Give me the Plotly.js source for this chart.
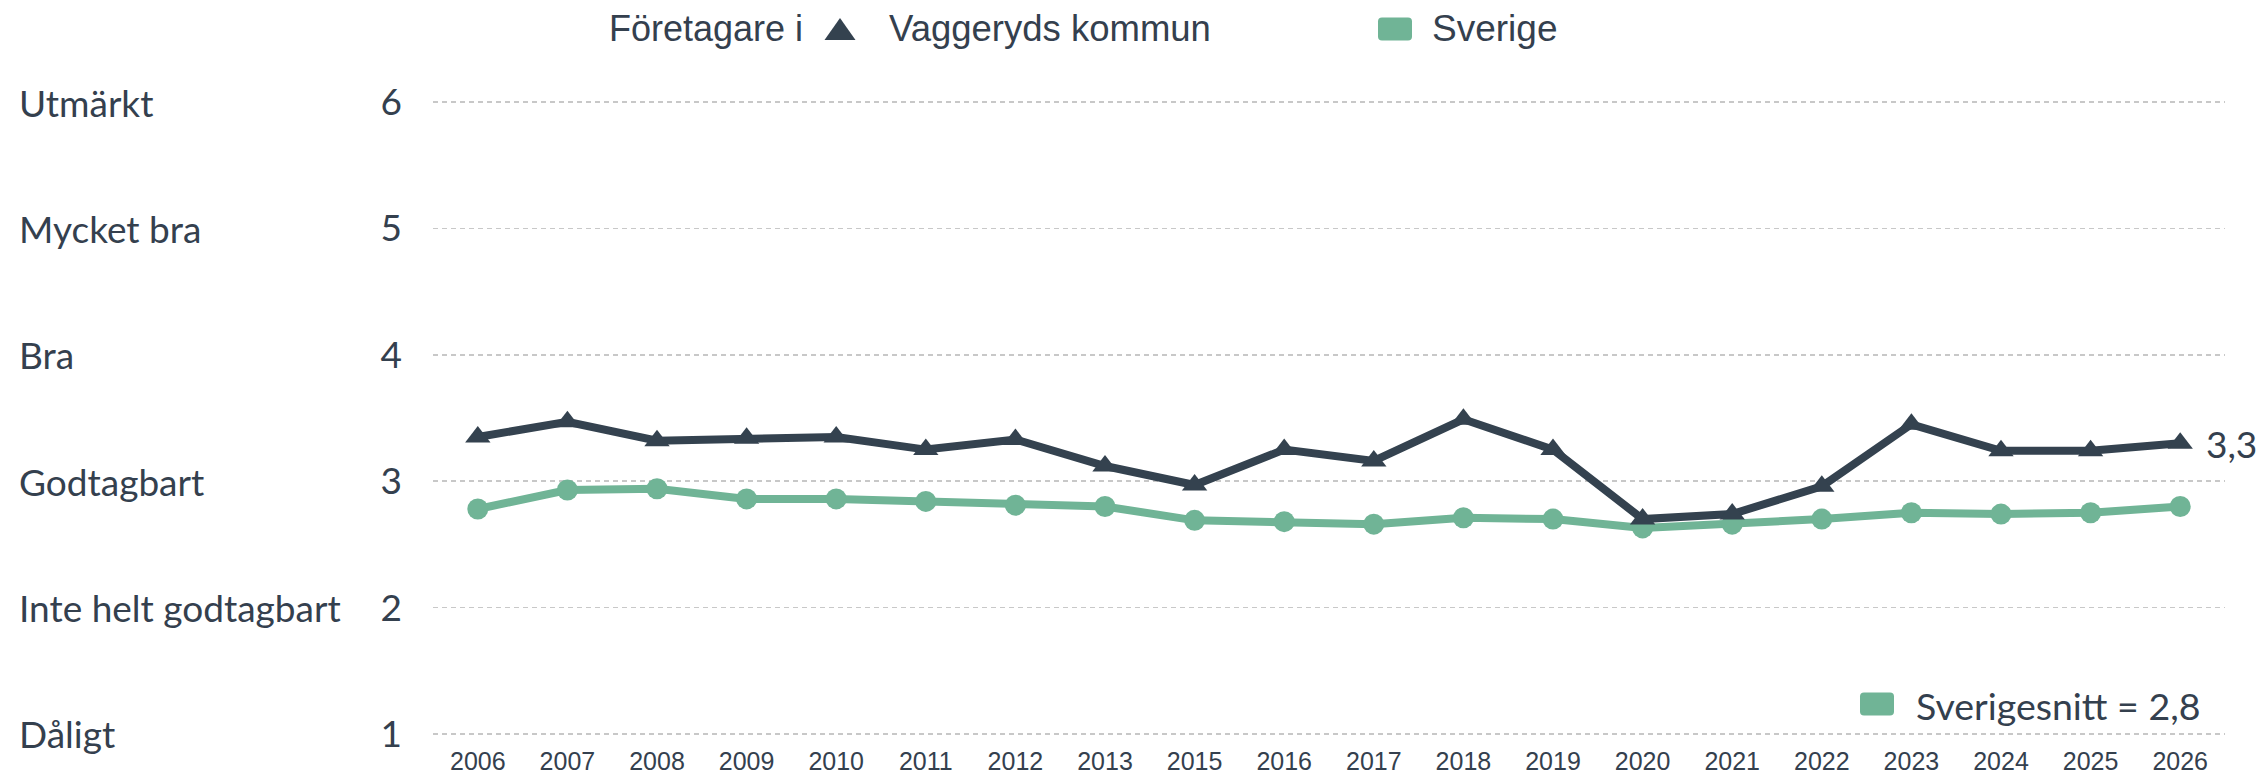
<!DOCTYPE html>
<html>
<head>
<meta charset="utf-8">
<script src="https://cdn.plot.ly/plotly-3.0.1.min.js"></script>
<style>
  html, body { margin: 0; padding: 0; background: #ffffff; }
  #chart { width: 2265px; height: 779px; }
</style>
</head>
<body>
<div id="chart"></div>
<script>
// ---- Data ----
const years = ['2006','2007','2008','2009','2010','2011','2012','2013','2015','2016',
               '2017','2018','2019','2020','2021','2022','2023','2024','2025','2026'];
const vaggeryd = [3.35, 3.47, 3.32, 3.34, 3.35, 3.25, 3.33, 3.12, 2.97, 3.25,
                  3.16, 3.49, 3.25, 2.70, 2.74, 2.96, 3.45, 3.24, 3.24, 3.30];
const sverige  = [2.78, 2.93, 2.94, 2.86, 2.86, 2.84, 2.81, 2.80, 2.69, 2.68,
                  2.66, 2.71, 2.70, 2.63, 2.66, 2.70, 2.75, 2.74, 2.75, 2.80];
const yTickValues = [1, 2, 3, 4, 5, 6];
const yLevelLabels = ['Dåligt', 'Inte helt godtagbart', 'Godtagbart', 'Bra', 'Mycket bra', 'Utmärkt'];
const legendTitle = 'Företagare i';
const seriesNames = ['Vaggeryds kommun', 'Sverige'];
const avgLabel = 'Sverigesnitt';

// ---- Styles ----
const DARK = '#34424f';
const GREEN = '#70b496';
const TEXT = '#34404e';
const fmt = v => v.toFixed(1).replace('.', ',');

// plot-area geometry (pixels) for placing legend decorations
const M = { l: 433, r: 40, t: 97, b: 40 };
const PW = 2265 - M.l - M.r, PH = 779 - M.t - M.b;
const px = x => (x - M.l) / PW;
const py = y => (779 - M.b - y) / PH;

const traces = [
  {
    x: years, y: sverige, type: 'scatter', mode: 'lines+markers', name: seriesNames[1],
    line: { color: GREEN, width: 8 },
    marker: { symbol: 'circle', size: 21, color: GREEN },
    showlegend: false, hoverinfo: 'skip'
  },
  {
    x: years, y: vaggeryd, type: 'scatter', mode: 'lines+markers', name: seriesNames[0],
    line: { color: DARK, width: 8 },
    marker: { symbol: 'triangle-up', size: 22, color: DARK },
    showlegend: false, hoverinfo: 'skip'
  }
];

const annotations = [];
yLevelLabels.forEach((lab, i) => {
  annotations.push({
    text: lab, xref: 'paper', yref: 'y', x: px(17), y: yTickValues[i],
    xanchor: 'left', yanchor: 'middle', showarrow: false,
    font: { family: 'Lato', size: 37, color: TEXT }
  });
});
annotations.push({
  text: fmt(vaggeryd[vaggeryd.length - 1]), xref: 'x', yref: 'y',
  x: years.length - 1, y: vaggeryd[vaggeryd.length - 1],
  xanchor: 'left', yanchor: 'middle', xshift: 24, showarrow: false,
  font: { family: 'Lato', size: 37, color: TEXT }
});
const topY = py(29);
annotations.push({
  text: legendTitle, xref: 'paper', yref: 'paper', x: px(607), y: topY,
  xanchor: 'left', yanchor: 'middle', showarrow: false,
  font: { family: 'Liberation Sans', size: 36, color: TEXT }
});
annotations.push({
  text: seriesNames[0], xref: 'paper', yref: 'paper', x: px(887), y: topY,
  xanchor: 'left', yanchor: 'middle', showarrow: false,
  font: { family: 'Liberation Sans', size: 36.5, color: TEXT }
});
annotations.push({
  text: seriesNames[1], xref: 'paper', yref: 'paper', x: px(1430), y: topY,
  xanchor: 'left', yanchor: 'middle', showarrow: false,
  font: { family: 'Liberation Sans', size: 37, color: TEXT }
});
annotations.push({
  text: avgLabel + ' = ' + fmt(sverige[sverige.length - 1]), xref: 'paper', yref: 'paper',
  x: px(1914), y: py(705),
  xanchor: 'left', yanchor: 'middle', showarrow: false,
  font: { family: 'Lato', size: 37.5, color: TEXT }
});

const roundRect = 'M -13,-11.5 L 13,-11.5 Q 17,-11.5 17,-7.5 L 17,7.5 Q 17,11.5 13,11.5 L -13,11.5 Q -17,11.5 -17,7.5 L -17,-7.5 Q -17,-11.5 -13,-11.5 Z';
const shapes = [
  { type: 'path', xref: 'paper', yref: 'paper', xsizemode: 'pixel', ysizemode: 'pixel',
    xanchor: px(840), yanchor: topY,
    path: 'M -15.5,-11 L 15.5,-11 L 0,11 Z', fillcolor: DARK, line: { width: 0 } },
  { type: 'path', xref: 'paper', yref: 'paper', xsizemode: 'pixel', ysizemode: 'pixel',
    xanchor: px(1395), yanchor: topY,
    path: roundRect, fillcolor: GREEN, line: { width: 0 } },
  { type: 'path', xref: 'paper', yref: 'paper', xsizemode: 'pixel', ysizemode: 'pixel',
    xanchor: px(1877), yanchor: py(704),
    path: roundRect, fillcolor: GREEN, line: { width: 0 } }
];

const layout = {
  width: 2265, height: 779,
  margin: { l: M.l, r: M.r, t: M.t, b: M.b, pad: 0 },
  paper_bgcolor: '#ffffff', plot_bgcolor: '#ffffff',
  showlegend: false,
  xaxis: {
    type: 'category', range: [-0.5, 19.5], showgrid: false, zeroline: false, showline: false,
    ticks: '', ticklabelstandoff: 5,
    tickfont: { family: 'Liberation Sans', size: 25, color: TEXT },
    fixedrange: true
  },
  yaxis: {
    range: [0.96, 6.04], tickvals: yTickValues, ticktext: yTickValues.map(String),
    showgrid: true, gridcolor: '#c8c8c8', gridwidth: 1.5, griddash: '5px,4px',
    zeroline: false, showline: false, ticks: '', ticklabelstandoff: 30,
    tickfont: { family: 'Lato', size: 37, color: TEXT }, fixedrange: true
  },
  annotations: annotations,
  shapes: shapes
};

Plotly.newPlot('chart', traces, layout, { displayModeBar: false, staticPlot: true });
</script>
</body>
</html>
